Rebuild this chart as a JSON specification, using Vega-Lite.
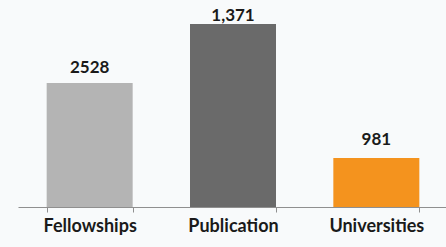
{
  "$schema": "https://vega.github.io/schema/vega-lite/v6.json",
  "autosize": {"type": "none"},
  "width": 430,
  "height": 207,
  "padding": {"left": 18, "top": 0, "right": 0, "bottom": 40},
  "background": "#f8fafb",
  "config": {"view": {"stroke": null}},
  "data": {
    "values": [
      {"category": "Fellowships", "bar": 124, "label": "2528", "color": "#b4b4b4"},
      {"category": "Publication", "bar": 183, "label": "1,371", "color": "#6a6a6a"},
      {"category": "Universities", "bar": 49, "label": "981", "color": "#f4931e"}
    ]
  },
  "encoding": {
    "x": {
      "field": "category",
      "type": "nominal",
      "sort": null,
      "scale": {"paddingInner": 0.4, "paddingOuter": 0.2},
      "axis": {
        "title": null,
        "labelAngle": 0,
        "labelFont": "Lato",
        "labelFontWeight": "bold",
        "labelFontSize": 18,
        "labelColor": "#1a1a1a",
        "labelPadding": 5,
        "domainColor": "#8f8f8f",
        "tickColor": "#8f8f8f",
        "tickSize": 5,
        "tickBand": "extent"
      }
    },
    "y": {
      "field": "bar",
      "type": "quantitative",
      "scale": {"domain": [0, 207], "nice": false},
      "axis": null
    }
  },
  "layer": [
    {
      "mark": {"type": "bar"},
      "encoding": {"color": {"field": "color", "type": "nominal", "scale": null}}
    },
    {
      "mark": {
        "type": "text",
        "baseline": "alphabetic",
        "dy": {"expr": "datum.category === 'Publication' ? -3 : datum.category === 'Universities' ? -13 : -10"},
        "font": "Lato",
        "fontWeight": "bold",
        "fontSize": 17,
        "color": "#1a1a1a"
      },
      "encoding": {"text": {"field": "label"}}
    }
  ]
}
